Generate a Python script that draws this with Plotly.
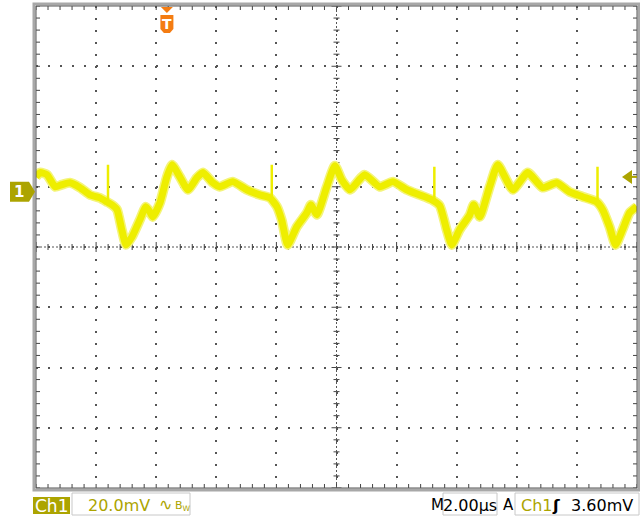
import plotly.graph_objects as go

# ---- data (time in µs relative to trigger, voltage in mV relative to Ch1 ground) ----
time_us = [-4.36, -4.22, -3.99, -3.72, -3.49, -3.23, -2.89, -2.56, -2.23, -2.00, -1.83, -1.66,
           -1.50, -1.36, -1.16, -0.90, -0.70, -0.57, -0.47, -0.23, 0.00, 0.17, 0.43, 0.70,
           1.00, 1.20, 1.53, 1.76, 2.19, 2.66, 3.09, 3.43, 3.66, 3.82, 4.02, 4.32, 4.66,
           4.79, 4.99, 5.32, 5.59, 5.82, 6.09, 6.58, 7.08, 7.52, 7.98, 8.41, 8.81, 9.08,
           9.31, 9.48, 9.74, 10.08, 10.21, 10.41, 10.74, 11.01, 11.51, 12.01, 12.50, 12.97,
           13.40, 13.83, 14.30, 14.50, 14.73, 14.93, 15.16, 15.40, 15.64]
ch1_mv = [3.3, 4.7, 4.0, 0.0, 0.7, 1.3, -0.3, -2.7, -3.7, -5.0, -6.0, -7.6,
          -14.3, -19.3, -16.6, -11.0, -6.6, -8.3, -10.0, -5.3, 3.3, 7.3, 3.3, -1.0,
          3.0, 4.7, 1.3, 0.0, 1.7, -1.0, -2.7, -3.7, -6.6, -11.0, -19.3, -13.3, -8.6,
          -6.0, -9.3, 0.0, 7.0, 2.3, -1.0, 4.0, 0.0, 1.7, -1.0, -2.7, -4.3, -6.3,
          -14.3, -19.3, -14.3, -9.3, -6.0, -10.0, 0.0, 7.3, -1.0, 4.7, -0.3, 1.3,
          -1.7, -3.3, -5.0, -7.6, -13.3, -19.3, -14.3, -8.6, -6.6]

spike_time_us = [-1.96, 3.49, 8.90, 14.33]
spike_base_mv = [-5.0, -3.7, -4.3, -5.0]
spike_top_mv = [7.3, 7.3, 6.6, 6.6]

x_range = [-4.356, 15.644]   # 10 div x 2.00 µs
y_range = [-100.0, 60.0]     # 8 div x 20.0 mV
trigger_level_mv = 3.6

OLIVE = "#aca400"
YELLOW = "#eeee00"
GRID = "#555555"

# ---- geometry helpers (pixels -> paper) ----
FW, FH = 640, 518
L, R, T, B = 36, 637, 6, 488
PW, PH = R - L, B - T

def px(x):
    return (x - L) / PW

def py(y):
    return (B - y) / PH

xdiv = (x_range[1] - x_range[0]) / 10
ydiv = (y_range[1] - y_range[0]) / 8
xpp = (x_range[1] - x_range[0]) / PW   # µs per pixel
ypp = (y_range[1] - y_range[0]) / PH   # mV per pixel

fig = go.Figure()

# ---- frame and crosshair ticks ----
tx, ty = [], []
for k in range(51):
    t = x_range[0] + k * xdiv / 5
    tx += [t, t, None, t, t, None]
    ty += [y_range[1], y_range[1] - 4 * ypp, None, y_range[0], y_range[0] + 4 * ypp, None]
for k in range(41):
    v = y_range[0] + k * ydiv / 5
    tx += [x_range[0], x_range[0] + 4 * xpp, None, x_range[1], x_range[1] - 4 * xpp, None]
    ty += [v, v, None, v, v, None]
yc = (y_range[0] + y_range[1]) / 2
xc = (x_range[0] + x_range[1]) / 2
for k in range(51):
    t = x_range[0] + k * xdiv / 5
    h = (5 if k % 5 == 0 else 3) * ypp
    tx += [t, t, None]
    ty += [yc - h, yc + h, None]
for k in range(41):
    v = y_range[0] + k * ydiv / 5
    h = (5 if k % 5 == 0 else 3) * xpp
    tx += [xc - h, xc + h, None]
    ty += [v, v, None]
fig.add_trace(go.Scatter(x=tx, y=ty, mode="lines", line=dict(color="#444444", width=1),
                         hoverinfo="skip", showlegend=False))
fig.add_trace(go.Scatter(x=[x_range[0], x_range[1], None, xc, xc],
                         y=[yc, yc, None, y_range[0], y_range[1]], mode="lines",
                         line=dict(color="#555555", width=1, dash="2px,2px"),
                         hoverinfo="skip", showlegend=False))

# ---- waveform (persistence band) ----
fig.add_trace(go.Scatter(x=time_us, y=ch1_mv, mode="lines",
                         line=dict(color="#f4f47a", width=10, shape="spline", smoothing=0.5),
                         hoverinfo="skip", showlegend=False))
fig.add_trace(go.Scatter(x=time_us, y=ch1_mv, mode="lines",
                         line=dict(color=YELLOW, width=7, shape="spline", smoothing=0.5),
                         showlegend=False))
sx, sy = [], []
for t, b0, t0 in zip(spike_time_us, spike_base_mv, spike_top_mv):
    sx += [t, t, t, None]
    sy += [b0, t0, b0, None]
fig.add_trace(go.Scatter(x=sx, y=sy, mode="lines", line=dict(color=YELLOW, width=2.5),
                         showlegend=False))

shapes = []
shapes.append(dict(type="rect", xref="paper", yref="paper", x0=px(L - 2), x1=px(R + 2),
                   y0=py(B + 2), y1=py(T - 2), line=dict(color="#a8a8a8", width=3), layer="above"))
shapes.append(dict(type="rect", xref="paper", yref="paper", x0=0, x1=1, y0=0, y1=1,
                   line=dict(color="#555555", width=1), layer="above"))

gy = B - (0 - y_range[0]) / ypp
def path(pts):
    return "M " + " L ".join(f"{px(a):.5f},{py(b):.5f}" for a, b in pts) + " Z"
shapes.append(dict(type="path", xref="paper", yref="paper",
                   path=path([(10, gy - 5), (29, gy - 5), (35, gy + 5), (29, gy + 15), (10, gy + 15)]),
                   fillcolor=OLIVE, line=dict(width=0)))
ty_px = B - (trigger_level_mv - y_range[0]) / ypp
shapes.append(dict(type="path", xref="paper", yref="paper",
                   path=path([(622, ty_px + 1), (632, ty_px - 6), (632, ty_px + 8)]),
                   fillcolor=OLIVE, line=dict(width=0)))
shapes.append(dict(type="line", xref="paper", yref="paper", x0=px(630), x1=px(637),
                   y0=py(ty_px + 1), y1=py(ty_px + 1), line=dict(color=OLIVE, width=2)))
tpx = L + (0 - x_range[0]) / xpp
ORANGE = "#f47c12"
shapes.append(dict(type="path", xref="paper", yref="paper",
                   path=path([(tpx - 6, 7), (tpx + 6, 7), (tpx, 13)]),
                   fillcolor=ORANGE, line=dict(width=0)))
shapes.append(dict(type="path", xref="paper", yref="paper",
                   path=path([(tpx - 6.5, 15), (tpx + 6.5, 15), (tpx + 6.5, 29), (tpx + 3, 33),
                              (tpx - 3, 33), (tpx - 6.5, 29)]),
                   fillcolor=ORANGE, line=dict(width=0)))

shapes.append(dict(type="rect", xref="paper", yref="paper", x0=px(33), x1=px(70),
                   y0=py(514), y1=py(497), fillcolor=OLIVE, line=dict(width=0)))
for x0, x1 in [(72, 190), (443, 497), (515, 639)]:
    shapes.append(dict(type="rect", xref="paper", yref="paper", x0=px(x0), x1=px(x1),
                       y0=py(515), y1=py(493), line=dict(color="#c8c8c8", width=1)))

FONT = "DejaVu Sans"
def txt(x, y, s, color, size=16, anchor="left", bold=False):
    return dict(x=px(x), y=py(y), xref="paper", yref="paper", text=(f"<b>{s}</b>" if bold else s),
                showarrow=False, xanchor=anchor, yanchor="middle",
                font=dict(family=FONT, size=size, color=color))

annotations = [
    txt(19, gy + 5, "1", "white", 15, "center", True),
    txt(tpx, 24.5, "T", "white", 14, "center", True),
    txt(51.5, 506, "Ch1", "white", 17, "center"),
    txt(86, 505, "20.0mV", OLIVE, 16),
    txt(157, 504, "∿", OLIVE, 16),
    txt(173, 506, "B<sub>W</sub>", OLIVE, 11),
    txt(437.5, 505, "M", "black", 15, "center"),
    txt(470, 505, "2.00µs", "black", 16, "center"),
    txt(508, 505, "A", "black", 15, "center"),
    txt(519, 505, "Ch1", OLIVE, 16),
    txt(556, 505, "ʃ", "black", 16, "center", True),
    txt(635, 505, "3.60mV", "black", 16, "right"),
]

fig.update_layout(
    width=FW, height=FH,
    margin=dict(l=L, r=FW - R, t=T, b=FH - B),
    paper_bgcolor="white", plot_bgcolor="white",
    shapes=shapes, annotations=annotations,
    xaxis=dict(range=x_range, showticklabels=False, ticks="", zeroline=False,
               showgrid=True, tick0=x_range[0], dtick=xdiv,
               gridcolor=GRID, gridwidth=1.5, griddash="2px,10.05px", fixedrange=True),
    yaxis=dict(range=y_range, showticklabels=False, ticks="", zeroline=False,
               showgrid=True, tick0=y_range[0], dtick=ydiv,
               gridcolor=GRID, gridwidth=1.5, griddash="2px,10px", fixedrange=True),
    showlegend=False,
)

fig.write_html("out.html", config={"displayModeBar": False},
               post_script="document.body.style.margin='0';document.body.style.overflow='hidden';")
